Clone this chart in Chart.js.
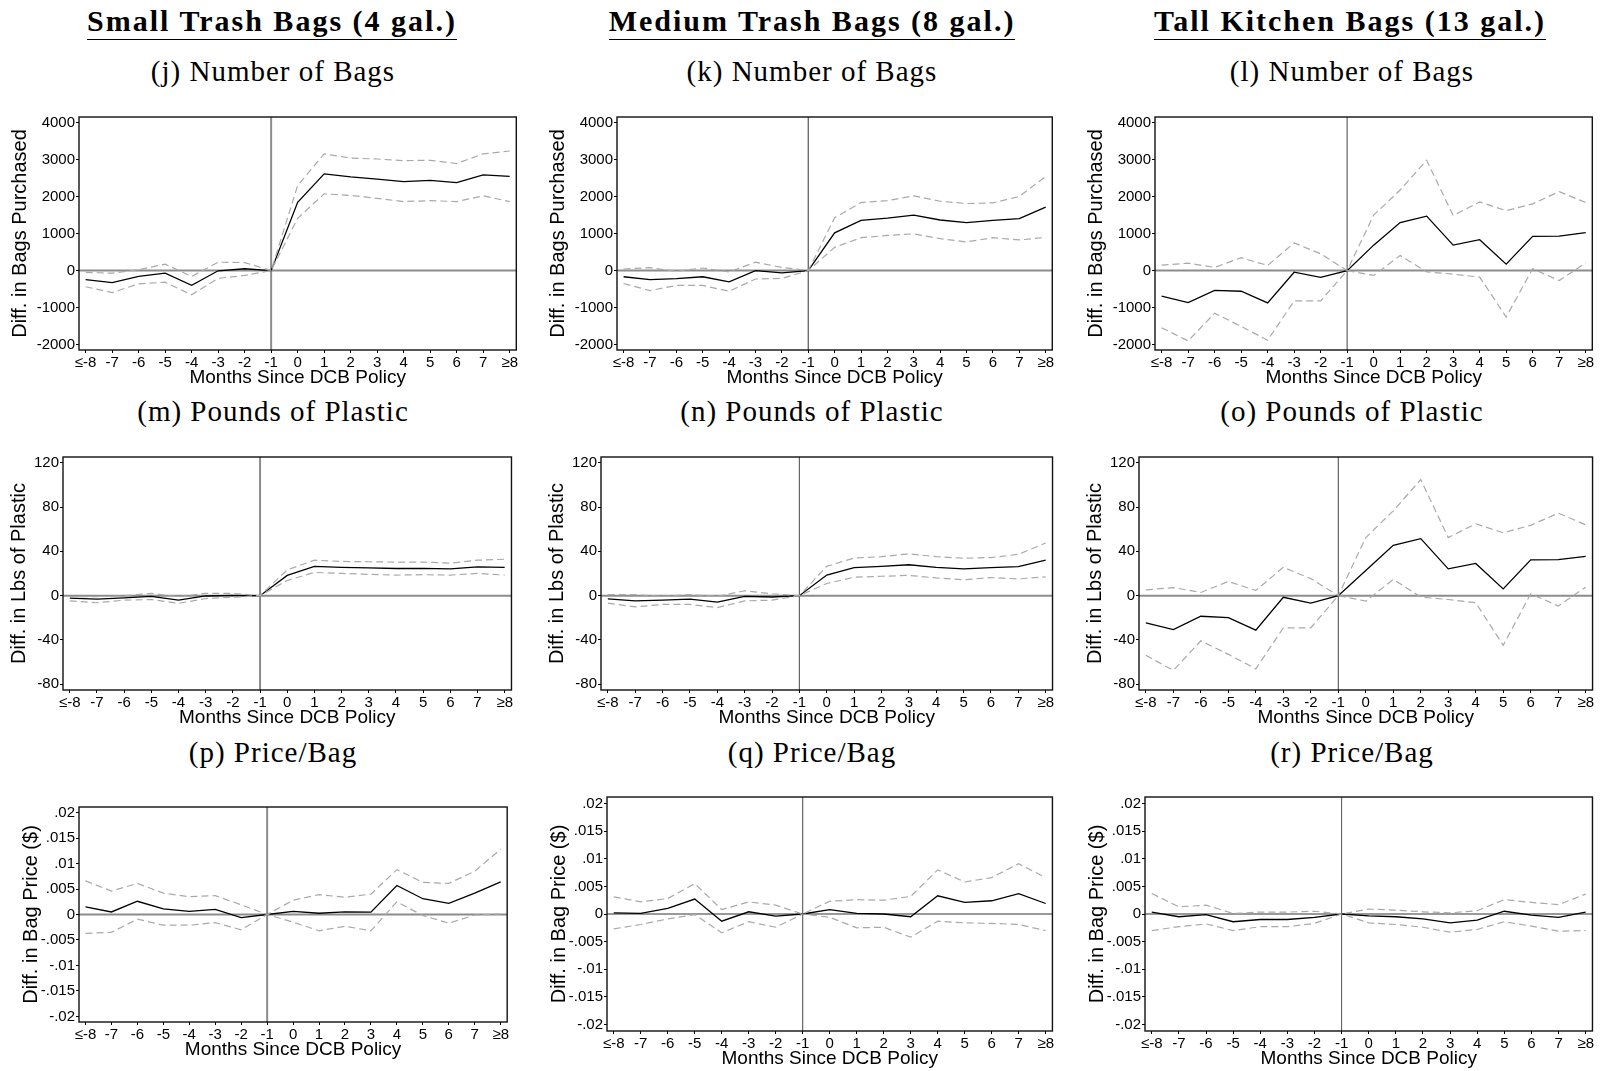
<!DOCTYPE html>
<html>
<head>
<meta charset="utf-8">
<script src="https://cdn.jsdelivr.net/npm/chart.js@4"></script>
<style>
  body { margin: 0; background: #fff; width: 1616px; height: 1071px; position: relative; overflow: hidden; }
  .head { position: absolute; width: 600px; text-align: center; font-family: 'Liberation Serif', serif; color: #000; }
  .head span { display: inline-block; font-weight: bold; font-size: 30px; line-height: 30px; letter-spacing: 2px; padding-bottom: 3px; border-bottom: 1.5px solid #000; }
  .sub { position: absolute; width: 600px; text-align: center; font-family: 'Liberation Serif', serif; font-size: 29px; line-height: 29px; letter-spacing: 1px; color: #000; }
  canvas { position: absolute; }
</style>
</head>
<body>
<div class="head" style="left:-28px; top:6px"><span>Small Trash Bags (4 gal.)</span></div>
<div class="head" style="left:512px; top:6px"><span>Medium Trash Bags (8 gal.)</span></div>
<div class="head" style="left:1050px; top:6px"><span>Tall Kitchen Bags (13 gal.)</span></div>

<div class="sub" style="left:-27px; top:57px">(j) Number of Bags</div>
<div class="sub" style="left:512px; top:57px">(k) Number of Bags</div>
<div class="sub" style="left:1052px; top:57px">(l) Number of Bags</div>
<div class="sub" style="left:-27px; top:397px">(m) Pounds of Plastic</div>
<div class="sub" style="left:512px; top:397px">(n) Pounds of Plastic</div>
<div class="sub" style="left:1052px; top:397px">(o) Pounds of Plastic</div>
<div class="sub" style="left:-27px; top:738px">(p) Price/Bag</div>
<div class="sub" style="left:512px; top:738px">(q) Price/Bag</div>
<div class="sub" style="left:1052px; top:738px">(r) Price/Bag</div>

<script>
// event-time axis
const months = [-8, -7, -6, -5, -4, -3, -2, -1, 0, 1, 2, 3, 4, 5, 6, 7, 8];
const monthLabels = ['≤-8', '-7', '-6', '-5', '-4', '-3', '-2', '-1', '0', '1', '2', '3', '4', '5', '6', '7', '≥8'];

// y tick values and their printed labels
const bagTicks = [-2000, -1000, 0, 1000, 2000, 3000, 4000];
const bagTickLabels = ['-2000', '-1000', '0', '1000', '2000', '3000', '4000'];
const lbsTicks = [-80, -40, 0, 40, 80, 120];
const lbsTickLabels = ['-80', '-40', '0', '40', '80', '120'];
const priceTicks = [-0.02, -0.015, -0.01, -0.005, 0, 0.005, 0.01, 0.015, 0.02];
const priceTickLabels = ['-.02', '-.015', '-.01', '-.005', '0', '.005', '.01', '.015', '.02'];

// number of bags purchased: estimate, upper and lower 95% bounds
const bagsSmallEst = [-245, -323, -157, -70, -400, -5, 50, 0, 1851, 2620, 2541, 2480, 2410, 2445, 2384, 2594, 2550];
const bagsSmallHi = [-50, -70, 25, 175, -157, 227, 218, 0, 2306, 3161, 3048, 3022, 2978, 2987, 2900, 3161, 3240];
const bagsSmallLo = [-437, -594, -358, -314, -655, -210, -131, 0, 1415, 2079, 2035, 1956, 1869, 1895, 1869, 2026, 1869];

const bagsMedEst = [-166, -245, -218, -166, -306, 0, -61, 0, 1022, 1362, 1424, 1502, 1371, 1301, 1362, 1406, 1721];
const bagsMedHi = [44, 79, -17, 70, -35, 227, 87, 0, 1432, 1843, 1895, 2026, 1878, 1817, 1834, 2009, 2550];
const bagsMedLo = [-349, -541, -402, -402, -559, -227, -210, 0, 629, 891, 952, 996, 865, 777, 891, 830, 900];

const bagsTallEst = [-690, -865, -533, -559, -873, -44, -183, 0, 690, 1301, 1476, 690, 838, 175, 926, 934, 1031];
const bagsTallHi = [148, 201, 87, 349, 140, 751, 454, 0, 1502, 2183, 2987, 1493, 1860, 1624, 1808, 2140, 1843];
const bagsTallLo = [-1546, -1904, -1153, -1511, -1886, -821, -821, 0, -131, 410, -35, -96, -175, -1258, 52, -271, 210];

// pounds of plastic
const lbsSmallEst = [-2.3, -3.2, -2, -0.6, -4.1, -0.3, 0.3, 0, 18.3, 26.5, 25.6, 25, 24.5, 24.7, 24.2, 25.9, 25.6];
const lbsSmallHi = [-0.8, -1, 0, 2, -1, 2, 2, 0, 23.3, 32, 30.9, 30.6, 30.3, 30.3, 29.4, 32, 32.9];
const lbsSmallLo = [-4.7, -6.4, -4.1, -3.5, -7, -2.6, -1.5, 0, 13.7, 21, 20.1, 19.2, 18.6, 18.9, 18.6, 20.1, 18.6];

const lbsMedEst = [-2.9, -4.7, -4.1, -3.2, -5.8, -0.6, -1.2, 0, 18.6, 25.3, 26.5, 27.9, 25.6, 24.2, 25.3, 26.2, 32];
const lbsMedHi = [0.9, 0.9, -0.6, 0.9, -0.6, 4.4, 1.7, 0, 26.5, 34, 35.2, 37.8, 35.2, 33.8, 34.4, 37.3, 47.5];
const lbsMedLo = [-6.7, -10.2, -7.9, -7.9, -10.8, -4.7, -4.1, 0, 11, 16.6, 17.5, 18.3, 16, 14.3, 16.3, 15.1, 16.9];

const lbsTallEst = [-24.5, -30.6, -18.6, -19.8, -31.2, -1.5, -6.7, 0, 22.7, 45.4, 51.5, 24.2, 29.1, 6.1, 32.3, 32.6, 35.5];
const lbsTallHi = [5.2, 7.3, 2.9, 12.8, 4.7, 25.6, 15.4, 0, 52.4, 76.6, 104.8, 52.4, 64.9, 56.8, 63.5, 74.5, 64];
const lbsTallLo = [-53.9, -67.5, -40.8, -53, -66.1, -29.1, -29.1, 0, -4.9, 14.6, -1.2, -3.5, -6.4, -44.8, 1.7, -9.3, 7.6];

// price per bag ($)
const priceSmallEst = [0.0015, 0.0005, 0.0026, 0.0011, 0.0006, 0.001, -0.0006, 0, 0.0006, 0.00025, 0.0005, 0.00045, 0.0057, 0.0031, 0.0022, 0.0042, 0.0064];
const priceSmallHi = [0.0066, 0.0046, 0.0061, 0.0042, 0.0035, 0.0037, 0.0019, 0, 0.0028, 0.0039, 0.0034, 0.004, 0.0088, 0.0063, 0.0061, 0.0085, 0.0128];
const priceSmallLo = [-0.0037, -0.0035, -0.0009, -0.0021, -0.0021, -0.0016, -0.003, 0, -0.0015, -0.0032, -0.0023, -0.0032, 0.0025, -0.0002, -0.0017, -0.0001, 0.0001];

const priceMedEst = [0.0002, 0.0001, 0.001, 0.0027, -0.0013, 0.0004, -0.0004, 0, 0.0008, 0.0001, 0, -0.0005, 0.0033, 0.0021, 0.0024, 0.0037, 0.0019];
const priceMedHi = [0.0031, 0.0022, 0.0028, 0.0055, 0.0008, 0.0022, 0.0016, 0, 0.0023, 0.0026, 0.0025, 0.0032, 0.008, 0.0058, 0.0066, 0.0091, 0.0066];
const priceMedLo = [-0.0027, -0.0019, -0.0009, -0.0001, -0.0034, -0.0014, -0.0024, 0, -0.0006, -0.0025, -0.0024, -0.0042, -0.0013, -0.0016, -0.0017, -0.0019, -0.003];

const priceTallEst = [0.00035, -0.0005, -0.0001, -0.0014, -0.001, -0.001, -0.0006, 0, -0.00035, -0.0005, -0.0009, -0.0016, -0.0011, 0.0005, -0.0002, -0.0006, 0.00035];
const priceTallHi = [0.0037, 0.0013, 0.0016, 0.0001, 0.00035, 0.00035, 0.0005, 0, 0.0009, 0.0007, 0.0004, 0.0002, 0.0006, 0.0026, 0.0021, 0.0017, 0.0036];
const priceTallLo = [-0.003, -0.0023, -0.0018, -0.003, -0.0023, -0.0023, -0.0017, 0, -0.0016, -0.0019, -0.0024, -0.0033, -0.0028, -0.0014, -0.0022, -0.0031, -0.003];

const SANS = "'Liberation Sans', Arial, sans-serif";

// zero line, policy line at month -1, and the closed plot box
const framePlugin = {
    id: 'frame',
    beforeDatasetsDraw(chart, args, opts) {
        const { ctx, chartArea: a, scales: { x, y } } = chart;
        ctx.save();
        const y0 = y.getPixelForValue(0);
        ctx.strokeStyle = opts.zeroColor;
        ctx.lineWidth = opts.zeroWidth;
        ctx.beginPath();
        ctx.moveTo(a.left, y0);
        ctx.lineTo(a.right, y0);
        ctx.stroke();
        const xp = x.getPixelForValue(-1);
        ctx.strokeStyle = opts.policyColor;
        ctx.lineWidth = opts.policyWidth;
        ctx.beginPath();
        ctx.moveTo(xp, a.top);
        ctx.lineTo(xp, a.bottom);
        ctx.stroke();
        ctx.restore();
    },
    afterDraw(chart) {
        const { ctx, chartArea: a } = chart;
        ctx.save();
        ctx.strokeStyle = '#111';
        ctx.lineWidth = 1.4;
        ctx.strokeRect(a.left, a.top, a.right - a.left, a.bottom - a.top);
        ctx.restore();
    }
};

const panels = [
    { l: 79, t: 109, r: 517, b: 350, yw: 71, est: bagsSmallEst, hi: bagsSmallHi, lo: bagsSmallLo, ticks: bagTicks, labels: bagTickLabels, min: -2150, max: 4160, title: 'Diff. in Bags Purchased', zc: '#8c8c8c', zw: 2, pc: '#8c8c8c', pw: 2 },
    { l: 617, t: 109, r: 1053, b: 350, yw: 71, est: bagsMedEst, hi: bagsMedHi, lo: bagsMedLo, ticks: bagTicks, labels: bagTickLabels, min: -2150, max: 4160, title: 'Diff. in Bags Purchased', zc: '#8c8c8c', zw: 2, pc: '#555', pw: 1.2 },
    { l: 1155, t: 109, r: 1593, b: 350, yw: 71, est: bagsTallEst, hi: bagsTallHi, lo: bagsTallLo, ticks: bagTicks, labels: bagTickLabels, min: -2150, max: 4160, title: 'Diff. in Bags Purchased', zc: '#8c8c8c', zw: 2, pc: '#666', pw: 1.2 },
    { l: 63, t: 449, r: 512, b: 690, yw: 56, est: lbsSmallEst, hi: lbsSmallHi, lo: lbsSmallLo, ticks: lbsTicks, labels: lbsTickLabels, min: -85.2, max: 125.2, title: 'Diff. in Lbs of Plastic', zc: '#8c8c8c', zw: 2, pc: '#8c8c8c', pw: 2 },
    { l: 601, t: 449, r: 1053, b: 690, yw: 56, est: lbsMedEst, hi: lbsMedHi, lo: lbsMedLo, ticks: lbsTicks, labels: lbsTickLabels, min: -85.2, max: 125.2, title: 'Diff. in Lbs of Plastic', zc: '#8c8c8c', zw: 2, pc: '#666', pw: 1.2 },
    { l: 1139, t: 449, r: 1593, b: 690, yw: 56, est: lbsTallEst, hi: lbsTallHi, lo: lbsTallLo, ticks: lbsTicks, labels: lbsTickLabels, min: -85.2, max: 125.2, title: 'Diff. in Lbs of Plastic', zc: '#8c8c8c', zw: 2, pc: '#444', pw: 1 },
    { l: 79, t: 799, r: 508, b: 1022, yw: 60, est: priceSmallEst, hi: priceSmallHi, lo: priceSmallLo, ticks: priceTicks, labels: priceTickLabels, min: -0.0211, max: 0.0211, title: 'Diff. in Bag Price ($)', zc: '#8c8c8c', zw: 2, pc: '#8c8c8c', pw: 2 },
    { l: 607, t: 789, r: 1053, b: 1031, yw: 60, est: priceMedEst, hi: priceMedHi, lo: priceMedLo, ticks: priceTicks, labels: priceTickLabels, min: -0.0212, max: 0.0212, title: 'Diff. in Bag Price ($)', zc: '#777', zw: 1.5, pc: '#444', pw: 1 },
    { l: 1145, t: 789, r: 1593, b: 1031, yw: 60, est: priceTallEst, hi: priceTallHi, lo: priceTallLo, ticks: priceTicks, labels: priceTickLabels, min: -0.0212, max: 0.0212, title: 'Diff. in Bag Price ($)', zc: '#777', zw: 1.5, pc: '#555', pw: 1 }
];

const X_AXIS_H = 39;

function toPoints(values) {
    return months.map((m, i) => ({ x: m, y: values[i] }));
}

function drawPanel(p) {
    const canvas = document.createElement('canvas');
    canvas.width = p.yw + (p.r - p.l) + 2;
    canvas.height = 2 + (p.b - p.t) + X_AXIS_H;
    canvas.style.left = (p.l - p.yw) + 'px';
    canvas.style.top = (p.t - 2) + 'px';
    document.body.appendChild(canvas);

    const band = { borderColor: '#a9a9a9', borderDash: [7, 4], borderWidth: 1.2 };

    new Chart(canvas, {
        type: 'line',
        data: {
            datasets: [
                { data: toPoints(p.hi), ...band },
                { data: toPoints(p.lo), ...band },
                { data: toPoints(p.est), borderColor: '#000', borderWidth: 1.3 }
            ]
        },
        options: {
            responsive: false,
            animation: false,
            devicePixelRatio: 1,
            layout: { padding: { top: 2, right: 2, left: 0, bottom: 0 } },
            elements: { point: { radius: 0 }, line: { tension: 0 } },
            plugins: {
                legend: { display: false },
                tooltip: { enabled: false },
                frame: { zeroColor: p.zc, zeroWidth: p.zw, policyColor: p.pc, policyWidth: p.pw }
            },
            scales: {
                x: {
                    type: 'linear',
                    min: -8.25,
                    max: 8.25,
                    border: { display: false },
                    grid: { display: true, drawOnChartArea: false, drawTicks: true, tickLength: 3, color: '#000' },
                    ticks: {
                        autoSkip: false,
                        maxRotation: 0,
                        padding: 1,
                        color: '#000',
                        font: { family: SANS, size: 15 },
                        callback: (v, i) => monthLabels[i]
                    },
                    title: { display: true, text: 'Months Since DCB Policy', color: '#000', font: { family: SANS, size: 19 }, padding: 0 },
                    afterBuildTicks: (s) => { s.ticks = months.map((v) => ({ value: v })); },
                    afterFit: (s) => { s.height = X_AXIS_H; }
                },
                y: {
                    type: 'linear',
                    min: p.min,
                    max: p.max,
                    border: { display: false },
                    grid: { display: true, drawOnChartArea: false, drawTicks: true, tickLength: 3, color: '#000' },
                    ticks: {
                        padding: 1,
                        color: '#000',
                        font: { family: SANS, size: 15 },
                        callback: (v, i) => p.labels[i]
                    },
                    title: { display: true, text: p.title, color: '#000', font: { family: SANS, size: 20 }, padding: 0 },
                    afterBuildTicks: (s) => { s.ticks = p.ticks.map((v) => ({ value: v })); },
                    afterFit: (s) => { s.width = p.yw; }
                }
            }
        },
        plugins: [framePlugin]
    });
}

panels.forEach(drawPanel);
</script>
</body>
</html>
